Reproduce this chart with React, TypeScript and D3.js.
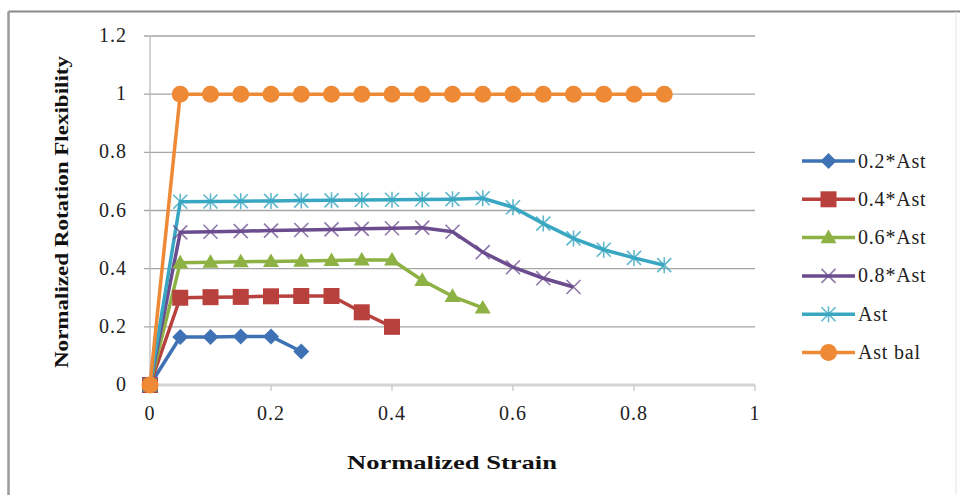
import React from "react";
import * as d3 from "d3";

const strain = [0, 0.05, 0.1, 0.15, 0.2, 0.25, 0.3, 0.35, 0.4, 0.45, 0.5, 0.55, 0.6, 0.65, 0.7, 0.75, 0.8, 0.85];

const s02 = [0, 0.165, 0.165, 0.167, 0.167, 0.115];
const s04 = [0, 0.3, 0.302, 0.303, 0.305, 0.306, 0.306, 0.25, 0.2];
const s06 = [0, 0.42, 0.422, 0.424, 0.425, 0.426, 0.428, 0.43, 0.43, 0.36, 0.305, 0.265];
const s08 = [0, 0.525, 0.527, 0.529, 0.531, 0.533, 0.535, 0.537, 0.539, 0.541, 0.527, 0.457, 0.405, 0.367, 0.337];
const sAst = [0, 0.63, 0.631, 0.632, 0.633, 0.634, 0.635, 0.636, 0.637, 0.638, 0.639, 0.642, 0.611, 0.555, 0.504, 0.465, 0.437, 0.412];
const sBal = [0, 1, 1, 1, 1, 1, 1, 1, 1, 1, 1, 1, 1, 1, 1, 1, 1, 1];

const seriesNames = ["0.2*Ast", "0.4*Ast", "0.6*Ast", "0.8*Ast", "Ast", "Ast bal"];
const seriesValues = [s02, s04, s06, s08, sAst, sBal];
const seriesColors = ["#3F72B5", "#B8403D", "#8DB243", "#6B4C8E", "#3AA7C2", "#EE8A35"];
const seriesMarkers = ["diamond", "square", "triangle", "x", "star", "circle"];

const xTicks = [0, 0.2, 0.4, 0.6, 0.8, 1];
const yTicks = [0, 0.2, 0.4, 0.6, 0.8, 1, 1.2];

const W = 960;
const H = 495;
const X0 = 150;
const X1 = 755;
const Y0 = 385;
const Y1 = 36;

function Marker({ type, x, y, color }: { type: string; x: number; y: number; color: string }) {
  if (type === "diamond") {
    const r = 8;
    return <path d={`M${x},${y - r}L${x + r},${y}L${x},${y + r}L${x - r},${y}Z`} fill={color} />;
  }
  if (type === "square") {
    const r = 8;
    return <rect x={x - r} y={y - r} width={2 * r} height={2 * r} fill={color} />;
  }
  if (type === "triangle") {
    const r = 8;
    return <path d={`M${x},${y - r}L${x + r},${y + r * 0.7}L${x - r},${y + r * 0.7}Z`} fill={color} />;
  }
  if (type === "x") {
    const r = 7;
    return (
      <path d={`M${x - r},${y - r}L${x + r},${y + r}M${x - r},${y + r}L${x + r},${y - r}`} stroke={color} strokeWidth={1.6} opacity={0.75} />
    );
  }
  if (type === "star") {
    const r = 7;
    return (
      <path
        d={`M${x - r},${y - r}L${x + r},${y + r}M${x - r},${y + r}L${x + r},${y - r}M${x},${y - r - 1}L${x},${y + r + 1}`}
        stroke={color}
        strokeWidth={1.6}
        opacity={0.8}
      />
    );
  }
  return <circle cx={x} cy={y} r={8.5} fill={color} />;
}

export default function App() {
  const x = d3.scaleLinear().domain([0, 1]).range([X0, X1]);
  const y = d3.scaleLinear().domain([0, 1.2]).range([Y0, Y1]);

  const font = "'Liberation Serif', 'Times New Roman', serif";

  const legendX = 802;
  const legendY0 = 161;
  const legendStep = 38.3;

  return (
    <svg width={W} height={H} style={{ position: "absolute", left: 0, top: 0, background: "#fff" }}>
      <rect x={0} y={0} width={W} height={H} fill="#fff" />
      {/* outer frame */}
      <line x1={8.5} y1={11.5} x2={W} y2={11.5} stroke="#8a8a8a" strokeWidth={2} />
      <line x1={8.5} y1={11.5} x2={8.5} y2={H} stroke="#9a9a9a" strokeWidth={2.5} />
      <line x1={956} y1={12} x2={956} y2={H} stroke="#ececec" strokeWidth={1.5} />

      {/* gridlines */}
      {yTicks.map((t) =>
        t === 0 ? null : (
          <line key={"g" + t} x1={X0 - 6} x2={X1} y1={y(t)} y2={y(t)} stroke="#a6a6a6" strokeWidth={1.3} />
        )
      )}
      {/* y axis */}
      <line x1={X0} x2={X0} y1={Y1} y2={Y0} stroke="#b8b8b8" strokeWidth={1.3} />
      {/* x axis */}
      <line x1={X0 - 6} x2={X1} y1={Y0} y2={Y0} stroke="#d4d4d4" strokeWidth={3} />
      {xTicks.map((t) => (
        <line key={"xt" + t} x1={x(t)} x2={x(t)} y1={Y0} y2={Y0 + 6} stroke="#c8c8c8" strokeWidth={1.3} />
      ))}

      {/* y tick labels */}
      {yTicks.map((t) => (
        <text key={"yl" + t} x={127} y={y(t) + 6} textAnchor="end" fontFamily={font} fontSize={20} fill="#222" letterSpacing={1}>
          {String(t)}
        </text>
      ))}
      {/* x tick labels */}
      {xTicks.map((t) => (
        <text key={"xl" + t} x={x(t)} y={420} textAnchor="middle" fontFamily={font} fontSize={20} fill="#222" letterSpacing={1}>
          {String(t)}
        </text>
      ))}

      {/* axis titles */}
      <text x={452} y={469} textAnchor="middle" fontFamily={font} fontSize={19} fontWeight="bold" fill="#111" textLength={210} lengthAdjust="spacingAndGlyphs">
        Normalized Strain
      </text>
      <text
        transform={`translate(68,212) rotate(-90)`}
        textAnchor="middle"
        fontFamily={font}
        fontSize={19}
        fontWeight="bold"
        fill="#111"
        textLength={312}
        lengthAdjust="spacingAndGlyphs"
      >
        Normalized Rotation Flexibility
      </text>

      {/* series lines */}
      {seriesValues.map((vals, i) => {
        const pts = vals.map((v, j) => [x(strain[j]), y(v)] as [number, number]);
        const path = d3.line()(pts) || "";
        return <path key={"l" + i} d={path} fill="none" stroke={seriesColors[i]} strokeWidth={3.5} strokeLinejoin="round" />;
      })}
      {/* series markers */}
      {seriesValues.map((vals, i) => (
        <g key={"m" + i}>
          {vals.map((v, j) => (
            <Marker key={j} type={seriesMarkers[i]} x={x(strain[j])} y={y(v)} color={seriesColors[i]} />
          ))}
        </g>
      ))}

      {/* legend */}
      {seriesNames.map((name, i) => {
        const ly = legendY0 + i * legendStep;
        return (
          <g key={"lg" + i}>
            <line x1={legendX} x2={legendX + 53} y1={ly} y2={ly} stroke={seriesColors[i]} strokeWidth={3.5} />
            <Marker type={seriesMarkers[i]} x={legendX + 26.5} y={ly} color={seriesColors[i]} />
            <text x={legendX + 56} y={ly + 6.5} fontFamily={font} fontSize={20} fill="#222" letterSpacing={0.8}>
              {name}
            </text>
          </g>
        );
      })}
    </svg>
  );
}
